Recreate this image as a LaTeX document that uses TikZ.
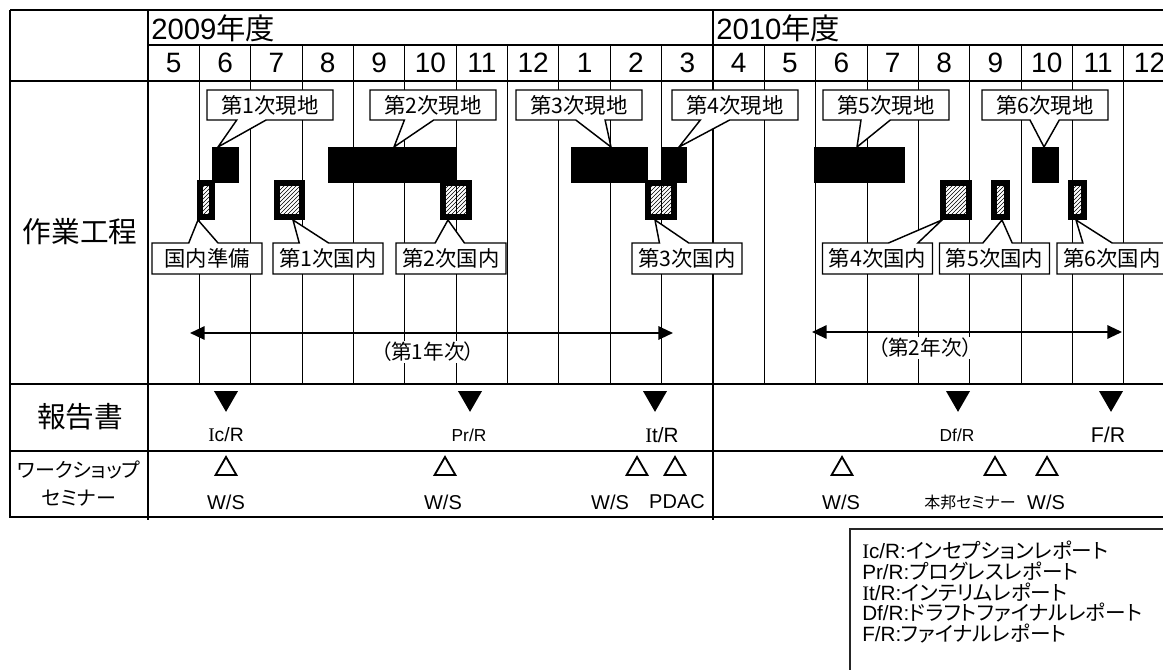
\documentclass[tikz,border=0pt]{standalone}
\usepackage{fontspec}
\setmainfont{Liberation Sans}
\newfontfamily\jp[RawFeature=+palt]{Noto Sans CJK JP}
\newfontfamily\serI{Liberation Serif}
\usetikzlibrary{arrows.meta, patterns, shapes.callouts, shapes.geometric}

\tikzset{
  rahmen/.style={line width=1.1pt},
  gitter/.style={line width=0.8pt},
  jahr/.style={font=\fontsize{22}{24}\selectfont, anchor=west, inner sep=0pt},
  monat/.style={font=\fontsize{21}{24}\selectfont, inner sep=0pt},
  zeile/.style={font=\jp\fontsize{21.5}{24}\selectfont, inner sep=0pt},
  istbalken/.style={fill=black},
  inbalken/.style={line width=4.5pt, pattern=north east lines},
  blase/.style={rectangle callout, draw, fill=white, line width=1.1pt, inner sep=0pt,
    font=\jp\fontsize{16}{18}\selectfont, callout pointer width=22pt},
  oben/.style={blase, minimum width=94.5pt, minimum height=22.5pt},
  unten/.style={blase, minimum width=82.5pt, minimum height=23.25pt},
  pfeil/.style={{Triangle[length=11pt,width=10pt]}-{Triangle[length=11pt,width=10pt]}, line width=1.5pt},
  spanne/.style={font=\jp\fontsize{15.5}{18}\selectfont, fill=white, inner sep=1pt},
  bericht/.style={regular polygon, regular polygon sides=3, shape border rotate=180,
    fill=black, minimum size=20.8pt, inner sep=0pt},
  seminar/.style={regular polygon, regular polygon sides=3, draw, line width=1.4pt,
    minimum size=18pt, inner sep=0pt},
  kurz/.style={inner sep=0pt},
  legende/.style={anchor=west, inner sep=0pt, font=\fontsize{15.5}{18}\selectfont}
}

\begin{document}
\begin{tikzpicture}[x=0.75pt, y=-0.75pt]

\useasboundingbox (0,0) rectangle (1163,670);
\clip (0,0) rectangle (1163,670);
\fill[white] (0,0) rectangle (1163,670);

% --- PARAMETER ---
\def\xnull{148}
\def\breite{51.36}

% --- MONATSLINIEN ---
\foreach \i in {1,...,19}
  \draw[gitter] ({\xnull+\breite*\i},45) -- ({\xnull+\breite*\i},384);

% --- RAHMEN ---
\draw[rahmen] (10,10) -- (1175,10);
\draw[rahmen] (10,10) -- (10,517) -- (1175,517);
\draw[rahmen] (148,10) -- (148,520);
\draw[rahmen] (713,10) -- (713,520);
\draw[rahmen] (148,45) -- (1175,45);
\foreach \y in {81,384,451} \draw[rahmen] (10,\y) -- (1175,\y);

% --- KOPF ---
\node[jahr] (j1) at (151,28) {2009{\jp 年度}};
\node[jahr] (j2) at (716,28) {2010{\jp 年度}};
\foreach \m [count=\i from 0] in {5,6,7,8,9,10,11,12,1,2,3,4,5,6,7,8,9,10,11,12}
  \node[monat] (m\i) at ({\xnull+\breite*(\i+0.5)},63) {\m};

% --- ZEILENTITEL ---
\node[zeile] (t1) at (80,232) {作業工程};
\node[zeile] (t2) at (80,417) {報告書};
\node[font=\jp\fontsize{15}{21}\selectfont, align=center, inner sep=0pt] (t3) at (79,484) {ワークショップ\\セミナー};

% --- BALKEN (schwarz = Ausland, schraffiert = Inland) ---
\foreach \xa/\xb in {212/239, 328/456, 571/648, 662/687, 814/905, 1032/1059}
  \fill[istbalken] (\xa,147) rectangle (\xb,183);
\foreach \xa/\xb in {197/215, 274/305, 440/472, 645/677, 940/972, 991/1010, 1068/1087}
  \draw[inbalken] ({\xa+3},183) rectangle ({\xb-3},217);

% --- SPITZEN ---
\foreach \x [count=\i] in {218, 394, 611, 679, 857, 1044}
  \coordinate (p\i) at (\x,147);
\foreach \x [count=\i from 0] in {198, 293, 448, 655, 942, 1002, 1076}
  \coordinate (q\i) at (\x,220);

% --- BLASEN OBEN ---
\node[oben, callout absolute pointer={(p1)}] (z1) at (270,105) {第1次現地};
\node[oben, callout absolute pointer={(p2)}] (z2) at (433,105) {第2次現地};
\node[oben, callout absolute pointer={(p3)}] (z3) at (579,105) {第3次現地};
\node[oben, callout absolute pointer={(p4)}] (z4) at (735,105) {第4次現地};
\node[oben, callout absolute pointer={(p5)}] (z5) at (886,105) {第5次現地};
\node[oben, callout absolute pointer={(p6)}] (z6) at (1045,105) {第6次現地};

% --- BLASEN UNTEN ---
\node[unten, callout absolute pointer={(q0)}] (d0) at (207,258.5) {国内準備};
\node[unten, callout absolute pointer={(q1)}] (d1) at (328,258.5) {第1次国内};
\node[unten, callout absolute pointer={(q2)}] (d2) at (451,258.5) {第2次国内};
\node[unten, callout absolute pointer={(q3)}] (d3) at (687,258.5) {第3次国内};
\node[unten, callout absolute pointer={(q4)}] (d4) at (877.5,258.5) {第4次国内};
\node[unten, callout absolute pointer={(q5)}] (d5) at (994.5,258.5) {第5次国内};
\node[unten, callout absolute pointer={(q6)}] (d6) at (1112,258.5) {第6次国内};

% --- JAHRESSPANNEN ---
\coordinate (a1) at (190,333); \coordinate (b1) at (673,333);
\coordinate (a2) at (812,332); \coordinate (b2) at (1122,332);
\draw[pfeil] (a1) -- (b1);
\draw[pfeil] (a2) -- (b2);
\node[spanne] (s1) at (428,352) {（第1年次）};
\node[spanne] (s2) at (925,348) {（第2年次）};

% --- BERICHTE ---
\foreach \x/\nm in {226/r1, 470/r2, 655/r3, 958/r4, 1111/r5}
  \node[bericht] (\nm) at (\x,398) {};
\node[kurz, font=\fontsize{14.5}{16}\selectfont] at (226,435) {{\serI I}c/R};
\node[kurz, font=\fontsize{13}{16}\selectfont] at (469,435) {Pr/R};
\node[kurz, font=\fontsize{15.5}{16}\selectfont] at (662,435) {{\serI I}t/R};
\node[kurz, font=\fontsize{13}{16}\selectfont] at (957,435) {Df/R};
\node[kurz, font=\fontsize{16}{16}\selectfont] at (1108,435) {F/R};

% --- WORKSHOPS / SEMINARE ---
\foreach \x/\nm in {226/w1, 445/w2, 637/w3, 675/w4, 842/w5, 995/w6, 1047/w7}
  \node[seminar] (\nm) at (\x,469) {};
\foreach \x/\l in {226/{W/S}, 443/{W/S}, 610/{W/S}, 677/{PDAC}, 841/{W/S}, 1046/{W/S}}
  \node[kurz, font=\fontsize{15}{16}\selectfont] at (\x,502) {\l};
\node[kurz, font=\jp\fontsize{12}{16}\selectfont] at (970,502) {本邦セミナー};

% --- LEGENDE ---
\draw[rahmen, black!85] (850,680) -- (850,529) -- (1175,529);
\node[legende] (lg1) at (862,550) {{\serI I}c/R:{\jp インセプションレポート}};
\node[legende] (lg2) at (862,571) {Pr/R:{\jp プログレスレポート}};
\node[legende] (lg3) at (862,592) {{\serI I}t/R:{\jp インテリムレポート}};
\node[legende] (lg4) at (862,613) {Df/R:{\jp ドラフトファイナルレポート}};
\node[legende] (lg5) at (862,634) {F/R:{\jp ファイナルレポート}};

\end{tikzpicture}
\end{document}
